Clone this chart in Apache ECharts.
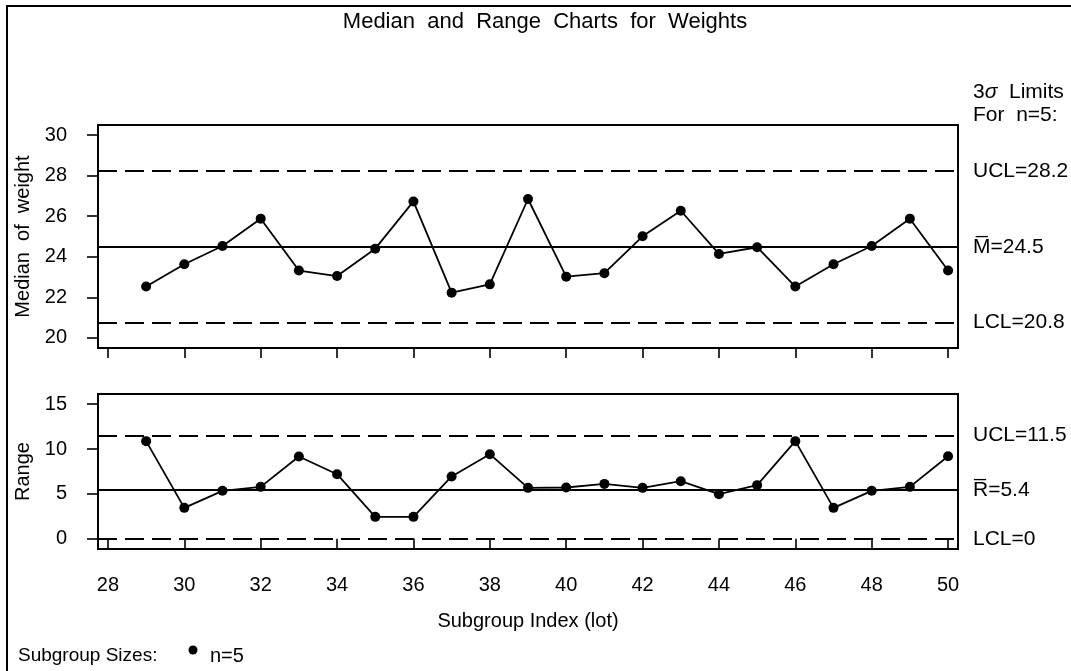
<!DOCTYPE html>
<html>
<head>
<meta charset="utf-8">
<script src="https://cdn.jsdelivr.net/npm/echarts@6/dist/echarts.min.js"></script>
<style>
html,body{margin:0;padding:0;background:#fff;}
#chart{width:1071px;height:671px;}
</style>
</head>
<body>
<div id="chart"></div>
<script>
const lots = [29,30,31,32,33,34,35,36,37,38,39,40,41,42,43,44,45,46,47,48,49,50];
const medians = [22.53,23.63,24.53,25.88,23.32,23.05,24.40,26.73,22.23,22.64,26.85,23.02,23.19,25.01,26.27,24.14,24.47,22.53,23.63,24.53,25.88,23.32];
const ranges = [10.88,3.45,5.35,5.79,9.17,7.20,2.45,2.45,6.95,9.43,5.68,5.72,6.12,5.68,6.42,4.98,5.98,10.88,3.45,5.35,5.79,9.20];
const medianLimits = [28.24,24.48,20.76];
const medianLimitLabels = ['UCL=28.2','M\u0305=24.5','LCL=20.8'];
const rangeLimits = [11.52,5.45,0];
const rangeLimitLabels = ['UCL=11.5','R\u0305=5.4','LCL=0'];
const lotTicks = [28,30,32,34,36,38,40,42,44,46,48,50];
const medianTicks = [20,22,24,26,28,30];
const rangeTicks = [0,5,10,15];

const FONT = "'Liberation Sans', Arial, Helvetica, sans-serif";
const txt = {color:'#000', fontFamily:FONT, fontSize:20};

function limitLines(values, labels){
  return {
    symbol:['none','none'], silent:true, animation:false,
    data: values.map((v,i)=>({
      yAxis:v,
      lineStyle:{color:'#000', width:1.8, type: i===1 ? 'solid' : [19,8]},
      label:{show:true, position:'end', distance:15, formatter:labels[i], color:'#000', fontFamily:FONT, fontSize:21}
    }))
  };
}

function xAxisCfg(gridIndex, showLabels){
  return {
    type:'value', gridIndex, min:27.74, max:50.26,
    axisLine:{show:false},
    axisTick:{show:true, length:10, customValues:lotTicks, lineStyle:{color:'#000', width:1.6}},
    axisLabel:{show:showLabels, customValues:lotTicks, margin:26, ...txt},
    splitLine:{show:false},
    name: showLabels ? 'Subgroup Index (lot)' : '',
    nameLocation:'middle', nameGap:62, nameTextStyle:txt
  };
}
function yAxisCfg(gridIndex, min, max, ticks, name){
  return {
    type:'value', gridIndex, min, max,
    axisLine:{show:false},
    axisTick:{show:true, length:11, customValues:ticks, lineStyle:{color:'#000', width:1.6}},
    axisLabel:{customValues:ticks, margin:31, ...txt},
    splitLine:{show:false},
    name, nameLocation:'middle', nameGap:57, nameTextStyle:txt
  };
}

const chart = echarts.init(document.getElementById('chart'), null, {renderer:'canvas'});
chart.setOption({
  animation:false,
  backgroundColor:'#fff',
  grid:[
    {left:98, right:113, top:125, height:223, show:true, borderColor:'#000', borderWidth:2, backgroundColor:'transparent'},
    {left:98, right:113, top:394, height:155, show:true, borderColor:'#000', borderWidth:2, backgroundColor:'transparent'}
  ],
  xAxis:[xAxisCfg(0,false), xAxisCfg(1,true)],
  yAxis:[
    yAxisCfg(0,19.5,30.5,medianTicks,'Median  of  weight'),
    yAxisCfg(1,-1.13,16.13,rangeTicks,'Range')
  ],
  series:[
    {type:'line', xAxisIndex:0, yAxisIndex:0, data:lots.map((x,i)=>[x,medians[i]]),
     symbol:'circle', symbolSize:10, itemStyle:{color:'#000'}, lineStyle:{color:'#000', width:1.8},
     markLine:limitLines(medianLimits, medianLimitLabels)},
    {type:'line', xAxisIndex:1, yAxisIndex:1, data:lots.map((x,i)=>[x,ranges[i]]),
     symbol:'circle', symbolSize:10, itemStyle:{color:'#000'}, lineStyle:{color:'#000', width:1.8},
     markLine:limitLines(rangeLimits, rangeLimitLabels)}
  ],
  graphic:[
    {type:'polyline', shape:{points:[[7,671],[7,6],[1071,6]]}, style:{stroke:'#000', lineWidth:2, fill:null}},
    {type:'text', x:545, y:22, style:{text:'Median  and  Range  Charts  for  Weights', font:'22px '+FONT, align:'center', verticalAlign:'middle', fill:'#000'}},
    {type:'text', x:973, y:92, style:{text:'3{s|σ}  Limits', font:'21px '+FONT, fill:'#000', verticalAlign:'middle',
      rich:{s:{fontStyle:'italic', fontSize:21, fontFamily:FONT, fill:'#000'}}}},
    {type:'text', x:973, y:115, style:{text:'For  n=5:', font:'21px '+FONT, fill:'#000', verticalAlign:'middle'}},
    {type:'text', x:18, y:656, style:{text:'Subgroup Sizes:', font:'19px '+FONT, fill:'#000', verticalAlign:'middle'}},
    {type:'circle', shape:{cx:193, cy:650, r:4.5}, style:{fill:'#000'}},
    {type:'text', x:210, y:656, style:{text:'n=5', font:'20px '+FONT, fill:'#000', verticalAlign:'middle'}}
  ]
});
</script>
</body>
</html>
